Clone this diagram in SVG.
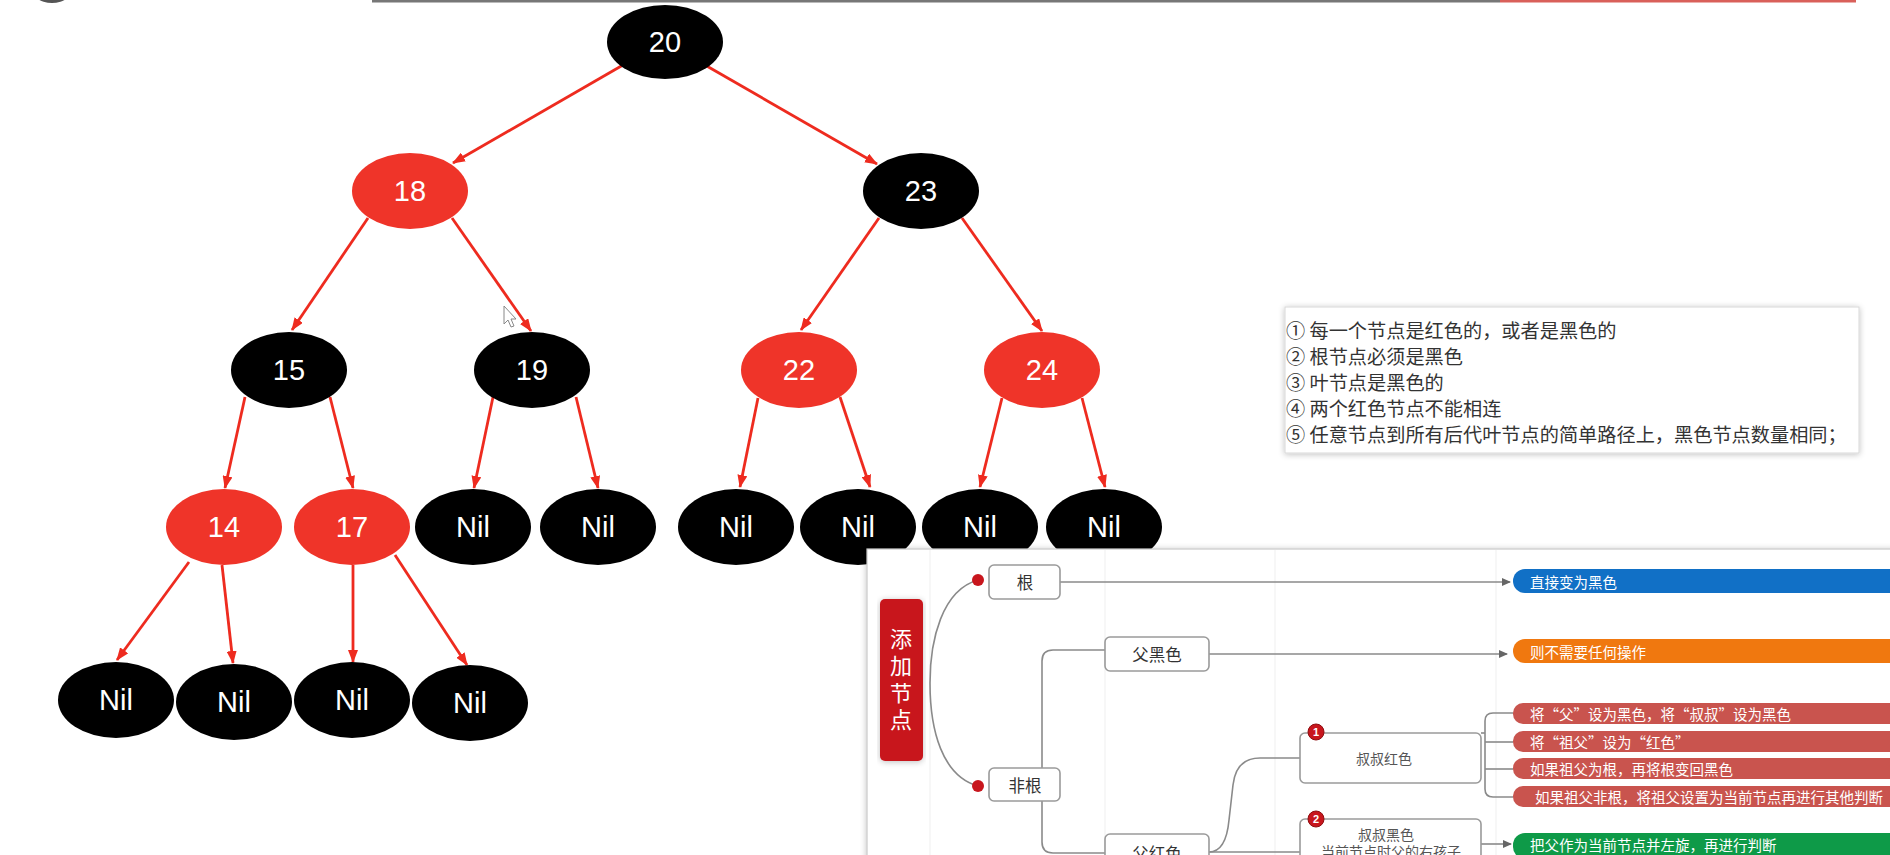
<svg xmlns="http://www.w3.org/2000/svg" width="1890" height="855" viewBox="0 0 1890 855">
<defs>
<style>
.nb{fill:#000}
.nr{fill:#ef3429}
.nt{fill:#fff;font-family:"Liberation Sans",Arial,sans-serif;font-size:29px;text-anchor:middle;dominant-baseline:central}
.edge{stroke:#ee2b1f;stroke-width:2.8;fill:none;marker-end:url(#ah)}
.rule{fill:#333;font-family:"Noto Sans CJK SC",sans-serif;font-size:19.2px;dominant-baseline:central}
.box{fill:#fff;stroke:#9a9a9a;stroke-width:1.6}
.bt{fill:#333;font-family:"Noto Sans CJK SC",sans-serif;font-size:16.5px;text-anchor:middle;dominant-baseline:central}
.bt2{fill:#555;font-family:"Noto Sans CJK SC",sans-serif;font-size:14px;text-anchor:middle;dominant-baseline:central}
.mm{stroke:#8a8a8a;stroke-width:1.6;fill:none}
.mma{stroke:#8a8a8a;stroke-width:1.6;fill:none;marker-end:url(#ga)}
.bar{font-family:"Noto Sans CJK SC",sans-serif;font-size:14.5px;fill:#fff;dominant-baseline:central}
.guide{stroke:#efefef;stroke-width:1}
.vt{fill:#fff;font-family:"Noto Sans CJK SC",sans-serif;font-size:22px;letter-spacing:5px;text-anchor:middle;writing-mode:vertical-rl}
.badge{fill:#c8161d;stroke:#8e0d10;stroke-width:1}
.bn{fill:#fff;font-family:"Liberation Sans",Arial,sans-serif;font-size:11px;font-weight:bold;text-anchor:middle;dominant-baseline:central}
</style>
<marker id="ah" markerWidth="13" markerHeight="10" refX="12" refY="5" orient="auto" markerUnits="userSpaceOnUse">
<path d="M0,0 L13,5 L0,10 z" fill="#ee2b1f"/>
</marker>
<marker id="ga" markerWidth="9" markerHeight="8" refX="8" refY="4" orient="auto" markerUnits="userSpaceOnUse">
<path d="M0,0 L9,4 L0,8 z" fill="#666"/>
</marker>
<filter id="sh" x="-5%" y="-5%" width="110%" height="110%">
<feGaussianBlur in="SourceAlpha" stdDeviation="3"/>
<feOffset dx="0" dy="1"/>
<feComponentTransfer><feFuncA type="linear" slope="0.25"/></feComponentTransfer>
<feMerge><feMergeNode/><feMergeNode in="SourceGraphic"/></feMerge>
</filter>
</defs>
<rect width="1890" height="855" fill="#fff"/>

<g id="top-decor">
<ellipse cx="52" cy="-14" rx="22" ry="17" fill="#555"/>
<rect x="372" y="0" width="1128" height="2.5" fill="#777"/>
<rect x="1500" y="0" width="356" height="2.5" fill="#d9605a"/>
</g>

<g id="connectors">
<path class="edge" d="M623,65 L453,163"/>
<path class="edge" d="M705,65 L877,164"/>
<path class="edge" d="M368,218 L292,330"/>
<path class="edge" d="M452,218 L531,331"/>
<path class="edge" d="M879,218 L801,330"/>
<path class="edge" d="M962,218 L1042,331"/>
<path class="edge" d="M245,397 L225,488"/>
<path class="edge" d="M330,397 L353,488"/>
<path class="edge" d="M493,397 L474,488"/>
<path class="edge" d="M576,397 L598,488"/>
<path class="edge" d="M758,398 L740,487"/>
<path class="edge" d="M840,397 L870,487"/>
<path class="edge" d="M1002,398 L980,487"/>
<path class="edge" d="M1082,398 L1105,487"/>
<path class="edge" d="M189,562 L117,660"/>
<path class="edge" d="M222,565 L233,663"/>
<path class="edge" d="M353,565 L353,662"/>
<path class="edge" d="M395,555 L467,665"/>
</g>

<g id="node-20"><ellipse class="nb" cx="665" cy="42" rx="58" ry="37"/><text class="nt" x="665" y="42">20</text></g>
<g id="node-18"><ellipse class="nr" cx="410" cy="191" rx="58" ry="38"/><text class="nt" x="410" y="191">18</text></g>
<g id="node-23"><ellipse class="nb" cx="921" cy="191" rx="58" ry="38"/><text class="nt" x="921" y="191">23</text></g>
<g id="node-15"><ellipse class="nb" cx="289" cy="370" rx="58" ry="38"/><text class="nt" x="289" y="370">15</text></g>
<g id="node-19"><ellipse class="nb" cx="532" cy="370" rx="58" ry="38"/><text class="nt" x="532" y="370">19</text></g>
<g id="node-22"><ellipse class="nr" cx="799" cy="370" rx="58" ry="38"/><text class="nt" x="799" y="370">22</text></g>
<g id="node-24"><ellipse class="nr" cx="1042" cy="370" rx="58" ry="38"/><text class="nt" x="1042" y="370">24</text></g>
<g id="node-14"><ellipse class="nr" cx="224" cy="527" rx="58" ry="38"/><text class="nt" x="224" y="527">14</text></g>
<g id="node-17"><ellipse class="nr" cx="352" cy="527" rx="58" ry="38"/><text class="nt" x="352" y="527">17</text></g>
<g id="nil-1"><ellipse class="nb" cx="473" cy="527" rx="58" ry="38"/><text class="nt" x="473" y="527">Nil</text></g>
<g id="nil-2"><ellipse class="nb" cx="598" cy="527" rx="58" ry="38"/><text class="nt" x="598" y="527">Nil</text></g>
<g id="nil-3"><ellipse class="nb" cx="736" cy="527" rx="58" ry="38"/><text class="nt" x="736" y="527">Nil</text></g>
<g id="nil-4"><ellipse class="nb" cx="858" cy="527" rx="58" ry="38"/><text class="nt" x="858" y="527">Nil</text></g>
<g id="nil-5"><ellipse class="nb" cx="980" cy="527" rx="58" ry="38"/><text class="nt" x="980" y="527">Nil</text></g>
<g id="nil-6"><ellipse class="nb" cx="1104" cy="527" rx="58" ry="38"/><text class="nt" x="1104" y="527">Nil</text></g>
<g id="nil-7"><ellipse class="nb" cx="116" cy="700" rx="58" ry="38"/><text class="nt" x="116" y="700">Nil</text></g>
<g id="nil-8"><ellipse class="nb" cx="234" cy="702" rx="58" ry="38"/><text class="nt" x="234" y="702">Nil</text></g>
<g id="nil-9"><ellipse class="nb" cx="352" cy="700" rx="58" ry="38"/><text class="nt" x="352" y="700">Nil</text></g>
<g id="nil-10"><ellipse class="nb" cx="470" cy="703" rx="58" ry="38"/><text class="nt" x="470" y="703">Nil</text></g>

<g id="cursor">
<path d="M504,306 L504,324 L508,320 L511,327 L514,326 L511,319 L516,319 Z" fill="#fff" stroke="#888" stroke-width="1"/>
</g>

<g id="rules">
<rect x="1285" y="307" width="574" height="146" fill="#fff" stroke="#d8d8d8" stroke-width="1" filter="url(#sh)"/>
<text class="rule" x="1286" y="330">① 每一个节点是红色的，或者是黑色的</text>
<text class="rule" x="1286" y="356">② 根节点必须是黑色</text>
<text class="rule" x="1286" y="382">③ 叶节点是黑色的</text>
<text class="rule" x="1286" y="408">④ 两个红色节点不能相连</text>
<text class="rule" x="1286" y="434">⑤ 任意节点到所有后代叶节点的简单路径上，黑色节点数量相同；</text>
</g>

<g id="mindmap">
<rect x="867" y="549" width="1040" height="320" fill="#fff" stroke="#c8c8c8" stroke-width="1.2" filter="url(#sh)"/>
<line class="guide" x1="930" y1="550" x2="930" y2="855"/>
<line class="guide" x1="1105" y1="550" x2="1105" y2="855"/>
<line class="guide" x1="1275" y1="550" x2="1275" y2="855"/>
<line class="guide" x1="1496" y1="550" x2="1496" y2="855"/>

<g id="mm-connectors">
<path class="mm" d="M978,580 C942,590 930,640 930,683 C930,730 942,776 978,786"/>
<path class="mma" d="M1060,582 H1510"/>
<path class="mm" d="M1105,650 H1053 Q1042,650 1042,661 V842 Q1042,853 1053,853 H1105"/>
<path class="mma" d="M1209,654 H1507"/>
<path class="mm" d="M1209,852 Q1226,852 1229,820 L1233,785 Q1236,758 1260,758 H1300"/>
<path class="mm" d="M1209,852 H1300"/>
<path class="mm" d="M1481,733 H1485"/>
<path class="mm" d="M1513,713 H1493 Q1485,713 1485,721 V789 Q1485,797 1493,797 H1513"/>
<path class="mm" d="M1485,742 H1513"/>
<path class="mm" d="M1485,769 H1513"/>
<path class="mma" d="M1481,844 H1511"/>
</g>

<g id="mm-root">
<rect x="880" y="599" width="43" height="162" rx="5" fill="#c8161d" filter="url(#sh)"/>
<text class="vt" x="901" y="682">添加节点</text>
</g>
<circle cx="978" cy="580" r="6" fill="#c8161d"/>
<circle cx="978" cy="786" r="6" fill="#c8161d"/>

<g id="mm-gen"><rect class="box" x="989" y="565" width="71" height="34" rx="5"/><text class="bt" x="1025" y="582">根</text></g>
<g id="mm-feigen"><rect class="box" x="989" y="768" width="71" height="33" rx="5"/><text class="bt" x="1025" y="785">非根</text></g>
<g id="mm-fuhei"><rect class="box" x="1105" y="637" width="104" height="34" rx="5"/><text class="bt" x="1157" y="654">父黑色</text></g>
<g id="mm-fuhong"><rect class="box" x="1105" y="834" width="104" height="40" rx="5"/><text class="bt" x="1157" y="853">父红色</text></g>
<g id="mm-shushuhong"><rect class="box" x="1300" y="733" width="181" height="50" rx="5"/><text class="bt2" x="1384" y="758">叔叔红色</text>
<circle class="badge" cx="1316" cy="732" r="8"/><text class="bn" x="1316" y="732">1</text></g>
<g id="mm-shushuhei"><rect class="box" x="1300" y="819" width="181" height="60" rx="5"/><text class="bt2" x="1386" y="834">叔叔黑色</text><text class="bt2" x="1391" y="851">当前节点时父的右孩子</text>
<circle class="badge" cx="1316" cy="819" r="8"/><text class="bn" x="1316" y="819">2</text></g>

<g id="mm-bar-1"><rect x="1513" y="569" width="400" height="24" rx="12" fill="#1170c6"/><text class="bar" x="1530" y="581">直接变为黑色</text></g>
<g id="mm-bar-2"><rect x="1513" y="639" width="400" height="24" rx="12" fill="#f0780f"/><text class="bar" x="1530" y="651">则不需要任何操作</text></g>
<g id="mm-bar-3"><rect x="1513" y="703" width="400" height="21" rx="10" fill="#c9544e"/><text class="bar" x="1530" y="713.5">将“父”设为黑色，将“叔叔”设为黑色</text></g>
<g id="mm-bar-4"><rect x="1513" y="731" width="400" height="21" rx="10" fill="#c9544e"/><text class="bar" x="1530" y="741.5">将“祖父”设为“红色”</text></g>
<g id="mm-bar-5"><rect x="1513" y="758" width="400" height="21" rx="10" fill="#c9544e"/><text class="bar" x="1530" y="768.5">如果祖父为根，再将根变回黑色</text></g>
<g id="mm-bar-6"><rect x="1513" y="786" width="400" height="21" rx="10" fill="#c9544e"/><text class="bar" x="1535" y="796.5">如果祖父非根，将祖父设置为当前节点再进行其他判断</text></g>
<g id="mm-bar-7"><rect x="1513" y="833" width="400" height="26" rx="12" fill="#0e9a48"/><text class="bar" x="1530" y="844">把父作为当前节点并左旋，再进行判断</text></g>
</g>
</svg>
